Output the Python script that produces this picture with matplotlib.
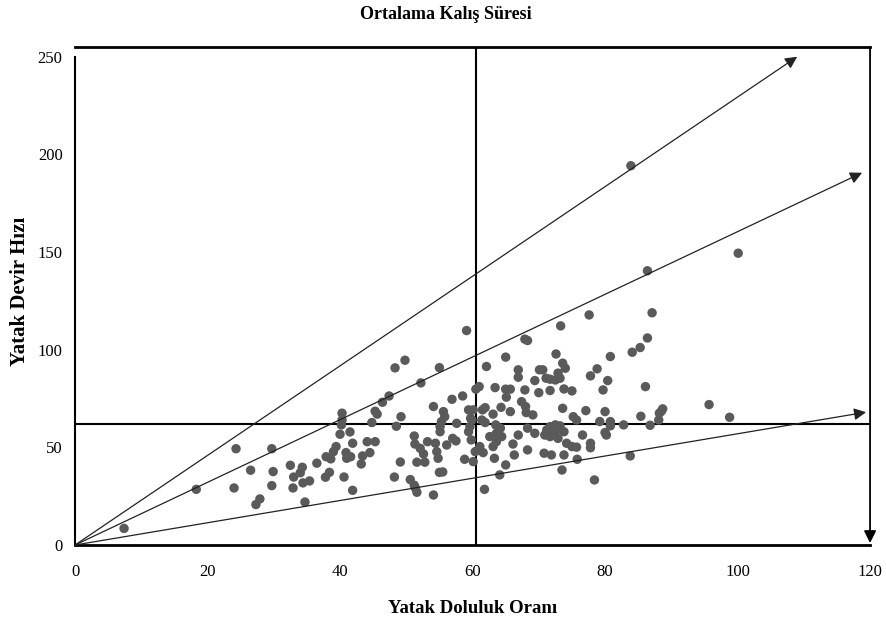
import matplotlib
matplotlib.use("Agg")
import matplotlib.pyplot as plt

plt.rcParams["font.family"] = ["Liberation Serif", "DejaVu Serif"]

# yatak doluluk orani (x) ve yatak devir hizi (y)
doluluk = [7.4, 18.3, 24.3, 29.7, 26.5, 24.0, 29.9, 29.7, 27.9, 27.3, 32.5, 34.3, 34.0, 33.0, 32.9,
           34.4, 35.4, 34.7, 36.5,
           59.1, 49.8, 48.3, 55.0, 52.2, 47.4, 46.4, 45.3, 45.6, 40.3, 49.2, 44.8, 40.3, 48.5, 40.2,
           40.0, 41.5, 41.9, 44.1, 45.3, 44.5, 39.4, 39.0, 37.9, 38.6, 40.9, 41.0, 41.6, 43.4, 43.2,
           38.4, 37.8, 40.6, 41.9, 49.1, 48.2, 50.6, 51.2, 51.6, 51.4, 54.1, 51.2, 51.3, 52.1, 53.2,
           52.6, 51.6, 52.8, 54.4, 54.6, 54.8, 56.1, 57.0, 57.5, 58.8, 55.0, 55.5, 54.1, 55.6, 55.8,
           55.3, 55.1, 55.1, 56.9, 58.5, 57.6, 59.4, 59.4, 59.7, 59.6, 59.8,
           77.6, 73.3, 67.9, 68.3, 65.0, 62.1, 72.6, 73.6, 74.0, 72.9, 73.2, 72.5, 71.7, 71.1, 70.6,
           70.1, 66.9, 66.9, 69.4, 80.8, 78.8, 77.8, 80.4, 79.7, 75.0, 73.8, 71.7, 70.0, 67.9, 65.7,
           65.0, 65.1, 63.4, 61.0, 60.5, 67.4, 68.0, 68.1, 69.1, 65.7, 64.3, 61.9, 61.5, 63.1, 60.1,
           73.6, 77.1, 80.0, 75.2, 75.7, 79.2, 80.8, 80.8, 61.4, 59.9, 61.9, 63.5, 64.2, 63.6, 62.6,
           64.4, 63.6, 63.1, 61.1, 61.6, 60.4, 60.1, 63.3, 68.3, 69.4, 66.9, 66.1, 68.3, 66.3, 65.0,
           64.1, 61.8, 70.8, 71.9, 73.8, 75.8, 73.5, 78.4, 71.2, 71.7, 72.5, 73.2, 72.5, 70.9, 71.7,
           72.9, 73.8, 74.2, 75.0, 75.7, 76.6, 77.8, 77.8, 80.0, 80.2,
           87.1, 86.4, 85.3, 84.1, 86.1, 95.7, 98.8, 88.7, 88.2, 88.5, 85.4, 88.1, 82.8, 86.8, 83.8,
           83.9, 86.4, 100.1]
devir = [8.5, 28.5, 49.3, 49.3, 38.3, 29.2, 37.6, 30.4, 23.6, 20.7, 40.8, 39.8, 37.0, 34.8, 29.2,
         31.8, 32.8, 22.0, 41.9,
         109.8, 94.6, 90.7, 90.8, 83.0, 76.3, 73.1, 68.5, 67.0, 67.5, 65.7, 62.7, 64.0, 60.8, 61.5,
         56.7, 57.9, 52.1, 52.9, 52.9, 47.3, 50.4, 47.8, 45.2, 44.1, 47.3, 44.4, 45.2, 45.6, 41.5,
         37.2, 34.7, 34.8, 28.0, 42.5, 34.8, 33.5, 30.6, 27.0, 29.0, 25.6, 55.8, 51.7, 49.5, 52.9,
         46.6, 42.4, 42.4, 52.1, 47.8, 44.4, 51.2, 54.6, 53.3, 43.9, 37.2, 37.4, 70.9, 68.3, 65.7,
         63.2, 60.6, 58.0, 74.6, 76.3, 62.3, 69.2, 58.0, 64.9, 60.6, 53.8,
         117.8, 112.2, 105.4, 104.7, 96.2, 91.4, 97.8, 93.1, 90.5, 88.0, 85.4, 84.5, 84.9, 85.4, 89.7,
         89.7, 89.7, 85.9, 84.2, 96.5, 90.2, 86.6, 84.2, 79.4, 78.9, 79.9, 79.1, 78.0, 79.4, 79.8,
         79.8, 75.7, 80.6, 81.1, 79.8, 73.4, 70.9, 67.8, 66.6, 68.3, 70.5, 70.3, 69.2, 67.0, 69.2,
         70.0, 68.8, 68.3, 65.7, 64.0, 63.2, 63.2, 61.0, 64.0, 64.0, 62.7, 61.5, 59.8, 57.2, 55.5,
         55.5, 52.9, 50.4, 50.4, 47.3, 47.8, 42.7, 44.4, 59.8, 57.2, 56.3, 51.7, 48.7, 46.1, 41.0,
         35.9, 28.5, 47.0, 46.1, 46.1, 43.9, 38.4, 33.3, 58.9, 60.6, 61.5, 61.0, 58.0, 56.3, 55.5,
         54.6, 58.0, 52.1, 50.4, 50.1, 56.3, 52.1, 49.8, 57.6, 56.3,
         118.9, 106.0, 101.1, 98.7, 81.1, 71.9, 65.4, 69.7, 67.5, 68.5, 65.9, 64.0, 61.5, 61.3, 45.6,
         194.2, 140.4, 149.4]

ort_doluluk = 60.5
ort_devir = 62
# ortalama kalis suresi oklari (uc noktalari)
ok_x = [109, 118.8, 119.4]
ok_y = [250, 190.6, 68]

fig = plt.figure(figsize=(8.86, 6.23), dpi=100)
ax = fig.add_axes([0.0847, 0.1252, 0.8973, 0.7994])

ax.scatter(doluluk, devir, s=46, color="#5a5a5a", edgecolors="none", zorder=3)

ax.axvline(ort_doluluk, color="black", lw=1.5, zorder=2)
ax.axhline(ort_devir, color="black", lw=1.5, zorder=2)

for ex, ey in zip(ok_x, ok_y):
    ax.annotate("", xy=(ex, ey), xytext=(0, 0),
                arrowprops=dict(arrowstyle="-|>", color="#222222", lw=0.9,
                                mutation_scale=18, shrinkA=0, shrinkB=0))

ax.annotate("", xy=(120, 1), xytext=(120, 255),
            arrowprops=dict(arrowstyle="-|>", color="black", lw=1.3,
                            mutation_scale=18, shrinkA=0, shrinkB=0),
            annotation_clip=False)

ax.set_xlim(0, 120)
ax.set_ylim(0, 255)
ax.set_xticks(range(0, 121, 20))
ax.set_yticks(range(0, 251, 50))
ax.tick_params(axis="x", length=0, labelsize=12, pad=14)
ax.tick_params(axis="y", length=0, labelsize=12, pad=9)
ax.spines["right"].set_visible(False)
ax.spines["top"].set_linewidth(2)
ax.spines["bottom"].set_linewidth(2)
ax.spines["left"].set_linewidth(1.5)
ax.spines["left"].set_bounds(0, 250)

fig.suptitle("Ortalama Kalış Süresi", x=0.503, y=0.99, fontsize=13, fontweight="bold")
ax.set_xlabel("Yatak Doluluk Oranı", fontsize=13.5, fontweight="bold", labelpad=14)
ax.set_ylabel("Yatak Devir Hızı", fontsize=15, fontweight="bold")
ax.yaxis.set_label_coords(-0.057, 0.51)

fig.savefig("out.png", dpi=100)
